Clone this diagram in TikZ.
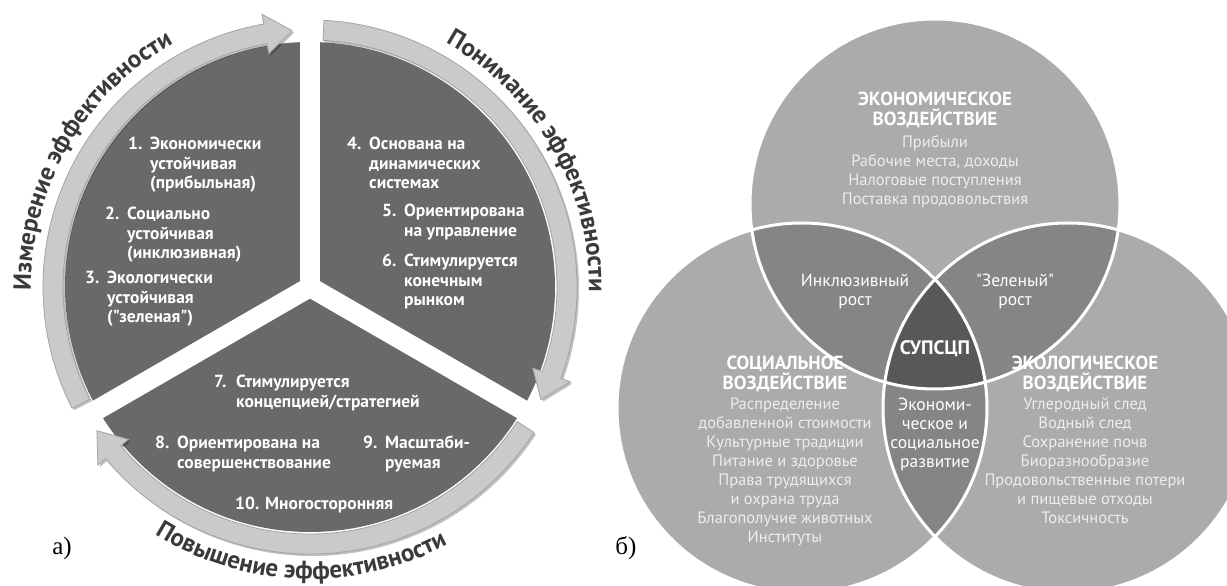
\documentclass[tikz,border=0pt]{standalone}
\usepackage{fontspec}
\setmainfont{PT Sans}
\newfontfamily\ptsans{PT Sans}
\newfontfamily\labelfont{Liberation Serif}
\usetikzlibrary{positioning,decorations.text}

\definecolor{piedark}{HTML}{696969}
\definecolor{arrowgray}{HTML}{CACACA}
\definecolor{arrowedge}{HTML}{A4A4A4}
\definecolor{arctext}{HTML}{3A3A3A}
\definecolor{venncirc}{HTML}{ABABAB}
\definecolor{vennpair}{HTML}{858585}
\definecolor{venncore}{HTML}{585858}

\newcommand{\itemnr}[1]{\makebox[22pt][l]{#1}}
\newcommand{\itemgap}{\hspace*{22pt}}
\newcommand{\arcfont}{\fontsize{25}{25}\selectfont\bfseries}

\tikzset{
  pieitem/.style={anchor=north west, inner sep=0pt, align=left, text=white,
    font=\ptsans\fontsize{17.5}{19.5}\selectfont\bfseries},
  venntitle/.style={inner sep=0pt, align=center, text=white,
    font=\ptsans\fontsize{19}{19.5}\selectfont\bfseries},
  vennlist/.style={inner sep=0pt, align=center, text=white!93!black,
    font=\ptsans\fontsize{16.5}{19}\selectfont},
  vennpart/.style={inner sep=0pt, align=center, text=white,
    font=\ptsans\fontsize{17.5}{19}\selectfont},
  panel/.style={inner sep=0pt, font=\labelfont\fontsize{25}{25}\selectfont},
  arctitle/.style={decorate, decoration={text along path, text align=center,
    text color=arctext, text={|\arcfont|#1}}},
}

\begin{document}
\begin{tikzpicture}[x=1pt, y=1pt]
        \fill[white] (0,0) rectangle (1227,586);
        \clip (0,0) rectangle (1227,586);

        % Pie (a)
        \coordinate (pc) at (310,299);
        \fill[piedark] (pc) circle[radius=245];
        \foreach \a in {90,210,330}
            \draw[white, line width=20pt] (pc) -- ++(\a:247);

        % Arrows and arc titles
        \begin{scope}[shift={(310,299)}]
            \foreach \s/\e in {207/94, 87/-26, -33/-146}{
                \fill[arrowgray, draw=arrowedge, line width=0.8pt,
                      preaction={fill=black, opacity=0.25, transform canvas={shift={(2pt,-2pt)}}}]
                    (\s:247) arc[start angle=\s, end angle=\e+6, radius=247]
                    -- ({\e+6}:237) -- (\e:257) -- ({\e+6}:277) -- ({\e+6}:267)
                    arc[start angle=\e+6, end angle=\s, radius=267] -- cycle;
            }
            \path[arctitle={Измерение эффективности}] (190:279) arc[start angle=190, end angle=110, radius=279];
            \path[arctitle={Понимание эффективности}] (70:279) arc[start angle=70, end angle=-10, radius=279];
            \path[arctitle={Повышение эффективности}] (228:292) arc[start angle=228, end angle=308, radius=292];
        \end{scope}

        % Items
        \node[pieitem] (item1) at (128,449) {\itemnr{1.}Экономически\\\itemgap устойчивая\\\itemgap(прибыльная)};
        \node[pieitem] (item2) at (105,379) {\itemnr{2.}Социально\\\itemgap устойчивая\\\itemgap(инклюзивная)};
        \node[pieitem] (item3) at (85,315) {\itemnr{3.}Экологически\\\itemgap устойчивая\\\itemgap("зеленая")};
        \node[pieitem] (item4) at (347,449) {\itemnr{4.}Основана на\\\itemgap динамических\\\itemgap системах};
        \node[pieitem] (item5) at (382,382) {\itemnr{5.}Ориентирована\\\itemgap на управление};
        \node[pieitem] (item6) at (382,332) {\itemnr{6.}Стимулируется\\\itemgap конечным\\\itemgap рынком};
        \node[pieitem] (item7) at (214,211) {\itemnr{7.}Стимулируется\\\itemgap концепцией/стратегией};
        \node[pieitem] (item8) at (155,150) {\itemnr{8.}Ориентирована на\\\itemgap совершенствование};
        \node[pieitem] (item9) at (363,150) {\itemnr{9.}Масштаби-\\\itemgap руемая};
        \node[pieitem] (item10) at (235,89) {10. Многосторонняя};

        % Venn (b)
        \coordinate (ceco) at (935,382);
        \coordinate (csoc) at (802,178);
        \coordinate (cenv) at (1068,178);
        \fill[venncirc] (ceco) circle[radius=185] (csoc) circle[radius=185] (cenv) circle[radius=185];
        \begin{scope}
            \clip (ceco) circle[radius=185];
            \fill[vennpair] (csoc) circle[radius=185] (cenv) circle[radius=185];
        \end{scope}
        \begin{scope}
            \clip (csoc) circle[radius=185];
            \fill[vennpair] (cenv) circle[radius=185];
        \end{scope}
        \begin{scope}
            \clip (ceco) circle[radius=185];
            \clip (csoc) circle[radius=185];
            \fill[venncore] (cenv) circle[radius=185];
        \end{scope}
        \draw[white, line width=3pt] (ceco) circle[radius=185] (csoc) circle[radius=185] (cenv) circle[radius=185];

        \node[venntitle] (ecotitle) at (935,476) {ЭКОНОМИЧЕСКОЕ\\ВОЗДЕЙСТВИЕ};
        \node[vennlist, below=7pt of ecotitle] (ecolist) {Прибыли\\Рабочие места, доходы\\Налоговые поступления\\Поставка продовольствия};
        \node[venntitle] (soctitle) at (785,212) {СОЦИАЛЬНОЕ\\ВОЗДЕЙСТВИЕ};
        \node[vennlist, below=6pt of soctitle] (soclist) {Распределение\\добавленной стоимости\\Культурные традиции\\Питание и здоровье\\Права трудящихся\\и охрана труда\\Благополучие животных\\Институты};
        \node[venntitle] (envtitle) at (1085,212) {ЭКОЛОГИЧЕСКОЕ\\ВОЗДЕЙСТВИЕ};
        \node[vennlist, below=6pt of envtitle] (envlist) {Углеродный след\\Водный след\\Сохранение почв\\Биоразнообразие\\Продовольственные потери\\и пищевые отходы\\Токсичность};

        \node[vennpart] (incl) at (855,294) {Инклюзивный\\рост};
        \node[vennpart] (green) at (1015,294) {"Зеленый"\\рост};
        \node[vennpart, font=\ptsans\fontsize{19.5}{19.5}\selectfont\bfseries] (core) at (935,237) {СУПСЦП};
        \node[vennpart] (lens) at (935,151) {Экономи-\\ческое и\\социальное\\развитие};

        % Panel labels
        \node[panel] (pa) at (62,38) {а)};
        \node[panel] (pb) at (626,38) {б)};
    \end{tikzpicture}
\end{document}
